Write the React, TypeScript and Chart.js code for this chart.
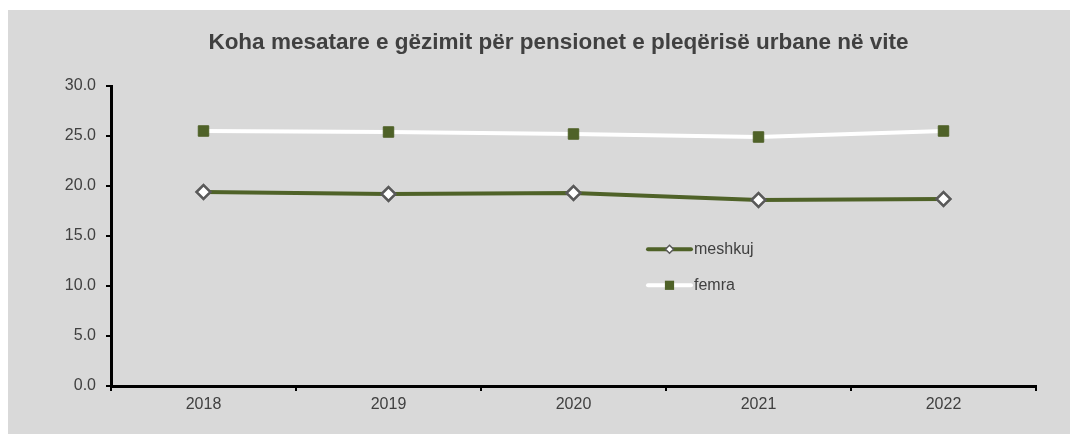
import React, { useEffect, useRef } from "react";
import { Chart, registerables } from "chart.js";

Chart.register(...registerables);

const categories = ["2018", "2019", "2020", "2021", "2022"];
const meshkujValues = [19.4, 19.2, 19.3, 18.6, 18.7];
const femraValues = [25.5, 25.4, 25.2, 24.9, 25.5];
const seriesNames = ["meshkuj", "femra"];
const titleText = "Koha mesatare e gëzimit për pensionet e pleqërisë urbane në vite";
const yMin = 0;
const yMax = 30;
const yStep = 5;

const FONT = "'Liberation Sans', Arial, Helvetica, sans-serif";
const TEXT = "#404040";
const GREEN = "#4F6228";
const GRAY_BORDER = "#595959";

const overlayPlugin = {
  id: "overlay",
  afterDraw(chart: any) {
    const ctx = chart.ctx as CanvasRenderingContext2D;
    ctx.save();
    // title
    ctx.font = `bold 22.5px ${FONT}`;
    ctx.fillStyle = TEXT;
    ctx.textAlign = "center";
    ctx.textBaseline = "alphabetic";
    ctx.fillText(titleText, 550.5, 39.3);

    // legend
    const x0 = 640;
    const x1 = 683;
    const mx = (x0 + x1) / 2;
    const rows = [239.3, 275.3];
    ctx.font = `16px ${FONT}`;
    ctx.textAlign = "left";
    ctx.textBaseline = "middle";
    // meshkuj
    ctx.lineCap = "round";
    ctx.strokeStyle = GREEN;
    ctx.lineWidth = 4;
    ctx.beginPath();
    ctx.moveTo(x0, rows[0]);
    ctx.lineTo(x1, rows[0]);
    ctx.stroke();
    ctx.beginPath();
    const r = 4;
    ctx.moveTo(mx, rows[0] - r);
    ctx.lineTo(mx + r, rows[0]);
    ctx.lineTo(mx, rows[0] + r);
    ctx.lineTo(mx - r, rows[0]);
    ctx.closePath();
    ctx.fillStyle = "#ffffff";
    ctx.fill();
    ctx.lineWidth = 1.5;
    ctx.strokeStyle = GRAY_BORDER;
    ctx.stroke();
    ctx.fillStyle = TEXT;
    ctx.fillText(seriesNames[0], 686, rows[0]);
    // femra
    ctx.strokeStyle = "#ffffff";
    ctx.lineWidth = 4;
    ctx.beginPath();
    ctx.moveTo(x0, rows[1]);
    ctx.lineTo(x1, rows[1]);
    ctx.stroke();
    ctx.fillStyle = GREEN;
    ctx.fillRect(mx - 4.6, rows[1] - 4.6, 9.2, 9.2);
    ctx.fillStyle = TEXT;
    ctx.fillText(seriesNames[1], 686, rows[1]);
    ctx.restore();
  },
};

export default function App() {
  const canvasRef = useRef<HTMLCanvasElement | null>(null);

  useEffect(() => {
    document.documentElement.style.overflow = "hidden";
    document.body.style.overflow = "hidden";
    const canvas = canvasRef.current;
    if (!canvas) return;
    const chart = new Chart(canvas, {
      type: "line",
      data: {
        labels: categories,
        datasets: [
          {
            label: seriesNames[0],
            data: meshkujValues,
            borderColor: GREEN,
            borderWidth: 4,
            backgroundColor: "#ffffff",
            pointStyle: "rectRot",
            pointRadius: 7,
            pointBorderWidth: 2.5,
            pointBorderColor: GRAY_BORDER,
            pointBackgroundColor: "#ffffff",
            tension: 0,
            fill: false,
          },
          {
            label: seriesNames[1],
            data: femraValues,
            borderColor: "#ffffff",
            borderWidth: 4,
            pointStyle: "rect",
            pointRadius: 7.4,
            pointBorderWidth: 1,
            pointBorderColor: GREEN,
            pointBackgroundColor: GREEN,
            tension: 0,
            fill: false,
          },
        ],
      },
      options: {
        animation: false,
        responsive: false,
        maintainAspectRatio: false,
        devicePixelRatio: 1,
        layout: { padding: { left: 0, right: 42, top: 76, bottom: 0 } },
        plugins: {
          legend: { display: false },
          title: { display: false },
          tooltip: { enabled: false },
        },
        scales: {
          x: {
            type: "category",
            offset: true,
            grid: {
              display: true,
              offset: true,
              drawOnChartArea: false,
              drawTicks: true,
              tickLength: 5,
              color: "#000000",
              lineWidth: 2,
            },
            border: { display: true, color: "#000000", width: 3 },
            ticks: {
              color: TEXT,
              font: { family: FONT, size: 16 },
              padding: 4,
              maxRotation: 0,
            },
            afterFit: (scale: any) => {
              scale.height = 48;
            },
          },
          y: {
            min: yMin,
            max: yMax,
            grid: {
              display: true,
              drawOnChartArea: false,
              drawTicks: true,
              tickLength: 5,
              color: "#000000",
              lineWidth: 2,
            },
            border: { display: true, color: "#000000", width: 3 },
            ticks: {
              stepSize: yStep,
              color: TEXT,
              font: { family: FONT, size: 16 },
              padding: 10,
              callback: (v: any) => Number(v).toFixed(1),
            },
            afterFit: (scale: any) => {
              scale.width = 103;
            },
          },
        },
      },
      plugins: [overlayPlugin],
    } as any);
    return () => chart.destroy();
  }, []);

  return (
    <div
      style={{
        width: 1070,
        height: 424,
        marginTop: 2,
        background: "#d9d9d9",
      }}
    >
      <canvas ref={canvasRef} width={1070} height={424} style={{ display: "block" }} />
    </div>
  );
}
